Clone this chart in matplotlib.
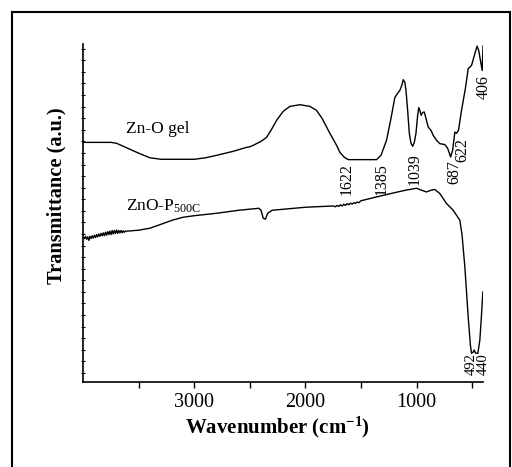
import matplotlib
matplotlib.use("Agg")
import matplotlib.pyplot as plt
from matplotlib.lines import Line2D
from matplotlib.ticker import FixedLocator, NullFormatter, MultipleLocator

plt.rcParams["font.family"] = "serif"
plt.rcParams["font.serif"] = ["Liberation Serif", "DejaVu Serif"]
plt.rcParams["mathtext.fontset"] = "custom"
plt.rcParams["mathtext.rm"] = "Liberation Serif"
plt.rcParams["mathtext.it"] = "Liberation Serif:italic"
plt.rcParams["mathtext.bf"] = "Liberation Serif:bold"

# Zn-O gel spectrum (wavenumber cm-1, transmittance a.u.)
gel_wn = [4000, 3750, 3700, 3600, 3500, 3400, 3300, 3000, 2900, 2800, 2650, 2530,
          2500, 2470, 2400, 2350, 2300, 2260, 2200, 2140, 2050, 1960, 1900, 1850,
          1780, 1720, 1690, 1650, 1615, 1360, 1320, 1270, 1230, 1195, 1165, 1150,
          1130, 1120, 1105, 1095, 1080, 1065, 1050, 1035, 1020, 1005, 990, 980,
          970, 958, 945, 930, 915, 895, 870, 850, 820, 790, 745, 720, 693, 675,
          655, 640, 622, 595, 560, 535, 505, 475, 455, 440, 430, 409, 401]
gel_t = [19.91, 19.91, 19.83, 19.4, 18.97, 18.58, 18.45, 18.45, 18.58, 18.79, 19.14, 19.48,
         19.53, 19.66, 20.0, 20.34, 21.12, 21.81, 22.59, 23.02, 23.16, 23.02, 22.67, 21.98,
         20.69, 19.66, 19.05, 18.62, 18.42, 18.42, 18.79, 20.09, 21.98, 23.79, 24.22, 24.4,
         24.91, 25.32, 25.09, 24.4, 22.67, 20.69, 19.83, 19.57, 19.91, 20.69, 22.24, 22.91,
         22.67, 22.24, 22.5, 22.53, 21.98, 21.23, 20.95, 20.52, 20.09, 19.8, 19.72, 19.4, 18.65, 19.22,
         20.8, 20.69, 20.95, 22.67, 24.57, 26.27, 26.55, 27.56, 28.22, 27.84, 27.28, 26.12, 28.25]

# ZnO-P500C spectrum
p500_wn = [4000, 3990, 3980, 3970, 3960, 3950, 3940, 3930, 3920, 3910, 3900, 3890,
           3880, 3870, 3860, 3850, 3840, 3830, 3820, 3810, 3800, 3790, 3780, 3770,
           3760, 3750, 3740, 3730, 3720, 3710, 3700, 3690, 3680, 3670, 3660, 3650,
           3640, 3630, 3620, 3600, 3500, 3400, 3300, 3200, 3100, 3000, 2800, 2600, 2420,
           2400, 2380, 2360, 2340, 2300, 2000, 1750, 1730, 1715, 1700, 1685, 1670,
           1655, 1640, 1625, 1610, 1595, 1580, 1565, 1550, 1535, 1520, 1500, 1300,
           1100, 1000, 955, 910, 870, 835, 790, 730, 670, 610, 590, 565, 535, 515,
           505, 490, 480, 470, 448, 430, 418, 403]
p500_t = [11.7, 11.6, 11.8, 11.55, 11.75, 11.45, 11.8, 11.6, 11.85, 11.65, 11.9, 11.7,
          11.95, 11.75, 12.0, 11.8, 12.05, 11.85, 12.1, 11.85, 12.15, 11.9, 12.2, 11.95,
          12.25, 11.95, 12.3, 12.0, 12.3, 12.05, 12.35, 12.05, 12.3, 12.1, 12.3, 12.1,
          12.28, 12.15, 12.25, 12.25, 12.33, 12.5, 12.84, 13.19, 13.45, 13.58, 13.79, 14.05, 14.22,
          14.05, 13.36, 13.28, 13.79, 14.05, 14.31, 14.42, 14.35, 14.47, 14.38, 14.52, 14.42,
          14.57, 14.47, 14.62, 14.52, 14.66, 14.58, 14.7, 14.64, 14.76, 14.7, 14.87, 15.34,
          15.78, 15.95, 15.78, 15.63, 15.78, 15.84, 15.49, 14.63, 14.05, 13.19, 11.9, 9.16, 4.85, 2.41,
          1.7, 1.81, 1.98, 1.72, 1.7, 2.84, 4.57, 7.0]

# band assignments: label, wavenumber, top of text in a.u.
peak_labels = ["1622", "1385", "1039", "687", "622", "406", "492", "440"]
peak_wn = [1630, 1315, 1015, 655, 585, 395, 506, 402]
peak_top = [18.1, 18.1, 18.95, 18.35, 20.25, 25.7, 1.7, 1.7]
peak_size = [11.5, 11.5, 11.5, 11.5, 11.5, 11.5, 10.5, 10.5]

fig = plt.figure(figsize=(5.12, 4.67), dpi=100)
ax = fig.add_axes([0.1627, 0.1827, 0.781, 0.723])

ax.plot(gel_wn, gel_t, color="black", lw=1.0)
ax.plot(p500_wn, p500_t, color="black", lw=1.0)

for lab, wn, top, fs in zip(peak_labels, peak_wn, peak_top, peak_size):
    ax.text(wn, top, lab, rotation=90, ha="center", va="top", fontsize=fs)

ax.text(3620, 20.7, "Zn-O gel", fontsize=12.5)
ax.text(3620, 14.0, r"ZnO-P$_{\mathrm{500C}}$", fontsize=12.5)

ax.set_xlim(4000, 400)
ax.set_ylim(-0.75, 28.4)
ax.xaxis.set_major_locator(FixedLocator([3000, 2000, 1000]))
ax.xaxis.set_minor_locator(FixedLocator([3500, 2500, 1500, 500]))
ax.yaxis.set_major_locator(MultipleLocator(1))
ax.yaxis.set_major_formatter(NullFormatter())
ax.tick_params(axis="x", which="both", direction="out", length=4, width=1, labelsize=14.5, pad=4)
ax.tick_params(axis="y", which="both", direction="inout", length=3, width=0.8)
ax.spines["top"].set_visible(False)
ax.spines["right"].set_visible(False)
for s in ["left", "bottom"]:
    ax.spines[s].set_linewidth(1.2)

ax.text(0.485, -0.135, r"Wavenumber (cm$^{\mathregular{-1}}$)", transform=ax.transAxes,
        ha="center", va="center", fontsize=15, fontweight="bold")
ax.text(-0.066, 0.55, "Transmittance (a.u.)", transform=ax.transAxes, rotation=90,
        ha="center", va="center", fontsize=14.7, fontweight="bold")

# outer frame around the figure (bottom edge is cut off)
fx0, fx1, fy1 = 11.5 / 512, 509.5 / 512, 1 - 11.5 / 467
fig.add_artist(Line2D([fx0, fx0], [0, fy1], color="black", lw=1.5))
fig.add_artist(Line2D([fx0, fx1], [fy1, fy1], color="black", lw=1.5))
fig.add_artist(Line2D([fx1, fx1], [0, fy1], color="black", lw=1.5))

fig.savefig("out.png", dpi=100)
